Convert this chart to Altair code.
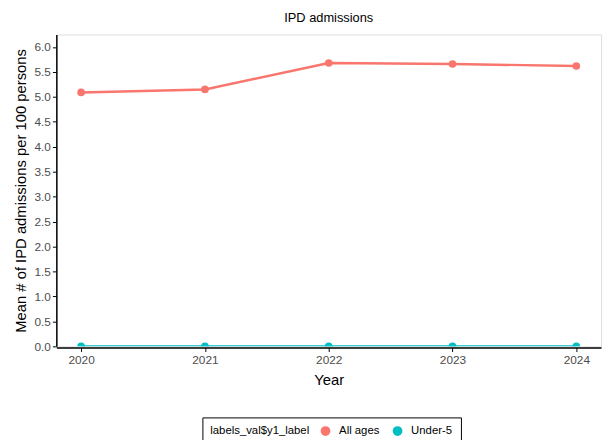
import altair as alt
import pandas as pd

years = [2020, 2021, 2022, 2023, 2024]
all_ages = [5.09, 5.15, 5.68, 5.66, 5.62]
under5 = [0.0, 0.0, 0.0, 0.0, 0.0]
groups = ["All ages", "Under-5"]
colors = ["#F8766D", "#00BFC4"]

df = pd.DataFrame({
    "Year": years * 2,
    "value": all_ages + under5,
    "group": [groups[0]] * len(years) + [groups[1]] * len(years),
})

font = "Liberation Sans"

x = alt.X("Year:Q",
          scale=alt.Scale(domain=[2019.8, 2024.2], nice=False, zero=False),
          axis=alt.Axis(values=years, format="d", title="Year", grid=False,
                        domainColor="black", domainWidth=1.5, tickColor="black",
                        tickSize=4, labelColor="#4D4D4D", labelFontSize=12,
                        labelFont=font, titleFont=font, titleFontSize=15,
                        titleFontWeight="normal", titleColor="black",
                        labelPadding=3, titlePadding=7, zindex=1, offset=1.2))
y = alt.Y("value:Q",
          scale=alt.Scale(domain=[0, 6.25], nice=False),
          axis=alt.Axis(values=[i * 0.5 for i in range(13)], format=".1f",
                        title="Mean # of IPD admissions per 100 persons",
                        grid=False, domainColor="black", domainWidth=1.5,
                        tickColor="black", tickSize=4, labelColor="#4D4D4D",
                        labelFontSize=12, labelFont=font, titleFont=font,
                        titleFontSize=15, titleFontWeight="normal",
                        titleColor="black", labelPadding=2, titlePadding=6,
                        zindex=1))
color = alt.Color("group:N",
                  scale=alt.Scale(domain=groups, range=colors),
                  legend=alt.Legend(title="labels_val$y1_label", orient="none",
                                    legendX=148, legendY=388, direction="horizontal",
                                    titleOrient="left", titleFontWeight="normal",
                                    titleFont=font, titleFontSize=11.5, titleColor="black",
                                    labelFont=font, labelFontSize=11.5, labelColor="black",
                                    symbolType="circle", symbolSize=70,
                                    strokeColor="black", padding=8,
                                    columnPadding=10, titlePadding=10, labelOffset=8))

base = alt.Chart(df)
lines = base.mark_line(strokeWidth=2.5, clip=True).encode(x=x, y=y, color=color)
points = base.mark_point(filled=True, size=60, opacity=1, clip=True).encode(x=x, y=y, color=color)

chart = alt.layer(lines, points).properties(
    width=552, height=316,
    title=alt.TitleParams("IPD admissions", font=font, fontSize=13,
                          fontWeight="normal", color="black", anchor="middle", offset=10),
    autosize=alt.AutoSizeParams(type="none"),
    padding={"left": 49, "top": 24, "right": 6, "bottom": 92},
).configure_view(stroke="#555555", strokeWidth=1.5).configure(background="white")

chart.save("out.html", embed_options={"renderer": "svg", "actions": False})
